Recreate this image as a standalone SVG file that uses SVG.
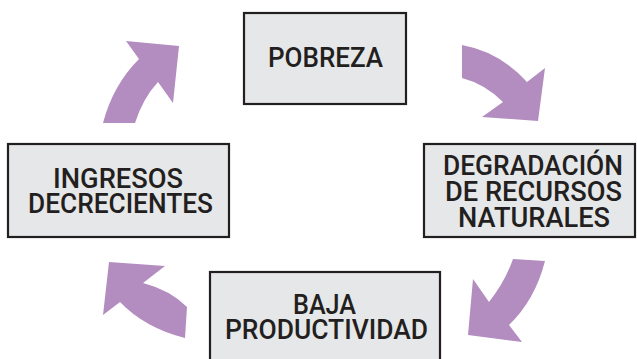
<svg xmlns="http://www.w3.org/2000/svg" width="637" height="359" viewBox="0 0 637 359">
<style>
.box{fill:#e6e7e8;stroke:#231f20;stroke-width:2.2}
.t{font-family:Roboto,"Liberation Sans",Arial,sans-serif;font-weight:500;font-size:27px;fill:#231f20;text-anchor:middle}
.arr{fill:#b38cc0}
</style>
<rect width="637" height="359" fill="#ffffff"/>
<g id="connectors">
<path class="arr" d="M103,123 Q113,85 139,59 L126,41 L179,46 L173,103 L158,82 Q143,98 135,123 Z"/>
<path class="arr" d="M462,45 Q500,52 527,82 L545,68 L538,121 L482,117 L503,102 Q485,84 462,78 Z"/>
<path class="arr" d="M513,259 L545,261 Q535,300 509,325 L522,342 L468,335 L473,279 L489,302 Q505,282 513,259 Z"/>
<path class="arr" d="M109,262 L165,266 L143,283 Q170,290 187,307 L185,338 Q145,328 120,302 L103,315 Z"/>
</g>
<g id="pobreza">
<rect class="box" x="244" y="13" width="162" height="91"/>
<text class="t" x="325.5" y="67" textLength="115" lengthAdjust="spacingAndGlyphs">POBREZA</text>
</g>
<g id="degradacion">
<rect class="box" x="424" y="144" width="211" height="93"/>
<text class="t"><tspan x="533" y="175" textLength="180" lengthAdjust="spacingAndGlyphs">DEGRADACIÓN</tspan><tspan x="533.5" y="201" textLength="177" lengthAdjust="spacingAndGlyphs">DE RECURSOS</tspan><tspan x="534" y="227" textLength="152" lengthAdjust="spacingAndGlyphs">NATURALES</tspan></text>
</g>
<g id="baja">
<rect class="box" x="210" y="272" width="230" height="100"/>
<text class="t"><tspan x="324.5" y="314" textLength="63" lengthAdjust="spacingAndGlyphs">BAJA</tspan><tspan x="326.5" y="339" textLength="203" lengthAdjust="spacingAndGlyphs">PRODUCTIVIDAD</tspan></text>
</g>
<g id="ingresos">
<rect class="box" x="8" y="144" width="221" height="93"/>
<text class="t"><tspan x="118" y="188" textLength="130" lengthAdjust="spacingAndGlyphs">INGRESOS</tspan><tspan x="120.5" y="213" textLength="185" lengthAdjust="spacingAndGlyphs">DECRECIENTES</tspan></text>
</g>
</svg>
